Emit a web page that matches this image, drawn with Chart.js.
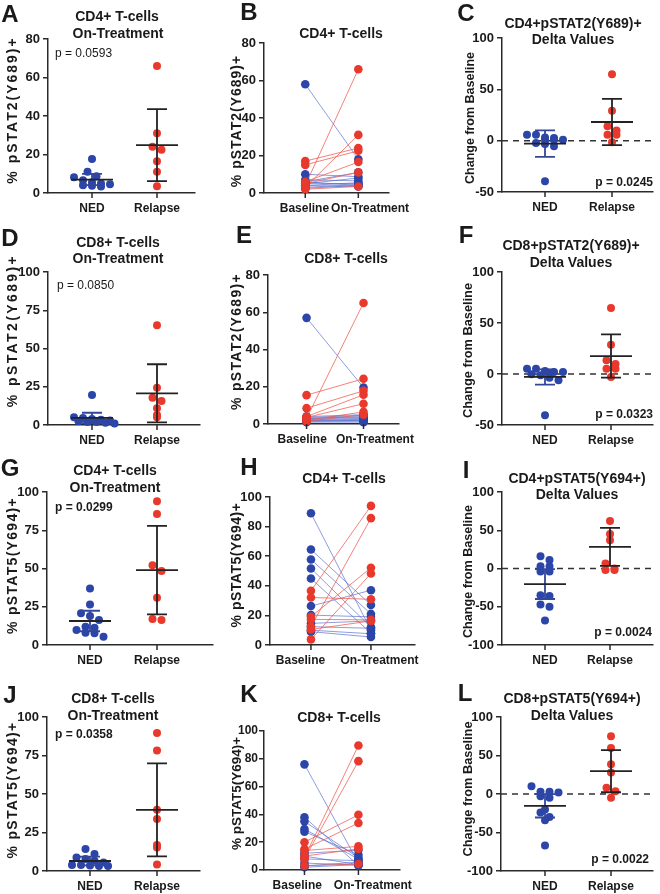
<!DOCTYPE html>
<html><head><meta charset="utf-8">
<script src="https://cdn.jsdelivr.net/npm/chart.js@4.4.1/dist/chart.umd.min.js"></script>
<style>
html,body{margin:0;padding:0;background:#fff;overflow:hidden;width:660px;height:894px;}
#wrap{position:relative;width:660px;height:894px;font-family:"Liberation Sans",Arial,Helvetica,sans-serif;color:#1a1a1a;}
canvas{position:absolute;}
.t{position:absolute;transform:translate(-50%,-50%);white-space:nowrap;font-weight:bold;font-size:14px;line-height:16px;}
.lt{position:absolute;transform:translate(-50%,-50%);font-weight:bold;font-size:24px;line-height:24px;}
.p{position:absolute;transform:translateY(-50%);white-space:nowrap;font-size:12px;line-height:14px;}
</style></head><body><div id="wrap"></div>
<script>
// ---------- tick / category labels ----------
const groupLabels = ['NED', 'Relapse'];
const timeLabels = ['Baseline', 'On-Treatment'];
const ticks80 = [0, 20, 40, 60, 80];
const ticks100by25 = [0, 25, 50, 75, 100];
const ticks100by20 = [0, 20, 40, 60, 80, 100];
const ticksDelta50 = [-50, 0, 50, 100];
const ticksDelta100 = [-100, -50, 0, 50, 100];

// ---------- A: CD4+ pSTAT2 on-treatment ----------
const A_ned = [17.6, 11.0, 8.7, 8.2, 6.6, 5.6, 5.0, 4.6, 4.0, 3.8, 3.4];
const A_rel = [66, 31, 24, 22.5, 16.5, 11, 3.5];
const A_nedStat = [7.0, 2.9];
const A_relStat = [24.9, 18.7];

// ---------- B: CD4+ pSTAT2 paired ----------
const B_nedBase = [58, 6, 10, 5, 7, 4, 5, 3, 6, 2.5, 4];
const B_nedOn   = [18, 11, 8.7, 8, 6.5, 5.5, 5, 4.5, 4, 4, 3.5];
const B_relBase = [4, 3, 17, 15, 6, 5, 2];
const B_relOn   = [66, 31, 24, 22.5, 16.5, 11, 3.5];

// ---------- C: CD4+ pSTAT2 delta ----------
const C_ned = [5.8, 5.8, 3.2, 2.6, 1, 1, 1, -2.3, -3.2, -5.5, -39.6];
const C_rel = [64.6, 29.2, 14, 10, 5.8, 5.8, -1.6];
const C_nedStat = [-2.9, 12.9];
const C_relStat = [18.2, 22.5];

// ---------- D: CD8+ pSTAT2 on-treatment ----------
const D_ned = [19.6, 5.0, 4.5, 4.0, 3.5, 3.0, 2.5, 2.0, 2.0, 1.5, 1.0];
const D_rel = [65.2, 24.3, 17.8, 15.7, 10.9, 6.5, 5.0];
const D_nedStat = [4.6, 3.4];
const D_relStat = [20.7, 19.0];

// ---------- E: CD8+ pSTAT2 paired ----------
const E_nedBase = [57, 4, 3.5, 3, 3, 2.5, 2, 2, 1.5, 1.5, 1];
const E_nedOn   = [19.6, 5, 4.5, 4, 3.5, 3, 2.5, 2, 2, 1.5, 1];
const E_relBase = [3, 15.5, 8.5, 4, 3.5, 2, 1.5];
const E_relOn   = [65, 24.3, 17.8, 15.7, 10.9, 6.5, 5];

// ---------- F: CD8+ pSTAT2 delta ----------
const F_ned = [5.2, 5.2, 2.9, 2, 2, 1.3, -0.3, -1.3, -3.6, -6.2, -40.4];
const F_rel = [64.6, 28.7, 13.4, 9.8, 5.2, 5.2, -2.9];
const F_nedStat = [-2.9, 7.5];
const F_relStat = [17.6, 21.2];

// ---------- G: CD4+ pSTAT5 on-treatment ----------
const G_ned = [37, 26.5, 20.7, 19, 16.3, 12, 11.3, 9.8, 8, 7.6, 5.4];
const G_rel = [94, 85.7, 52.2, 48.3, 30.9, 17, 16.3];
const G_nedStat = [15.7, 6.7];
const G_relStat = [48.9, 28.9];

// ---------- H: CD4+ pSTAT5 paired ----------
const H_nedBase = [89, 64.5, 57.8, 51.7, 44.9, 26.3, 20.2, 14.6, 12.4, 10, 9];
const H_nedOn   = [10, 27, 21, 12, 8, 37, 19, 16.3, 11.3, 7.6, 5.4];
const H_relBase = [36.6, 32.1, 19.1, 17.3, 12.4, 10.5, 3.8];
const H_relOn   = [94, 30.9, 52.2, 17, 85.7, 16.3, 48.3];

// ---------- I: CD4+ pSTAT5 delta ----------
const I_ned = [16, 11, 3, 3, -4, -4, -35, -36, -47, -50, -68];
const I_rel = [62, 45, 37, 6.5, 0, -2, -2];
const I_nedStat = [-20.4, 19.5];
const I_relStat = [28.3, 24.8];

// ---------- J: CD8+ pSTAT5 on-treatment ----------
const J_ned = [14.3, 11, 8.7, 7.8, 6.7, 5.6, 3.9, 3.9, 3.5, 3.3, 3.3];
const J_rel = [89.6, 78.3, 39.7, 33.8, 16.9, 15.2, 4.3];
const J_nedStat = [6.5, 2.8];
const J_relStat = [39.7, 30.2];

// ---------- K: CD8+ pSTAT5 paired ----------
const K_nedBase = [76, 38, 35, 29.5, 27.6, 12, 10, 8, 5, 3, 2];
const K_nedOn   = [5, 3.3, 8.7, 7.8, 11, 14.3, 3.9, 6.7, 3.5, 5.6, 3.9];
const K_relBase = [9, 8, 20, 15, 14, 10, 3];
const K_relOn   = [89.6, 78.3, 39.7, 33.8, 17, 15.2, 4.3];

// ---------- L: CD8+ pSTAT5 delta ----------
const L_ned = [10, 2.8, 2.8, 2, -2.8, -5, -20, -24, -30, -34, -67];
const L_rel = [75, 59.8, 38.7, 27.9, 8, 3.7, -5];
const L_nedStat = [-15.3, 15.2];
const L_relStat = [29.6, 27.3];

// ---------- styling ----------
const FONT = '"Liberation Sans", Arial, Helvetica, sans-serif';
const BLUE = '#2c45a8', RED = '#e8392c';
const BLUE_LINE = 'rgba(80,104,205,0.65)', RED_LINE = 'rgba(240,88,78,0.75)';
const AX = '#2a2a2a', TXT = '#1a1a1a';
const NED_BAR = '#33479a';

const wrap = document.getElementById('wrap');

// Prism-like row layout: values in the same band are spread side by side (max per row)
function swarm(values, center, pxX, pxY, band, gap, maxRow) {
  const bins = {};
  values.forEach((v, i) => { const b = Math.floor(v * pxY / band); (bins[b] = bins[b] || []).push(i); });
  const out = new Array(values.length);
  Object.keys(bins).forEach(b => {
    const ids = bins[b];
    for (let c = 0; c * maxRow < ids.length; c++) {
      const chunk = ids.slice(c * maxRow, (c + 1) * maxRow); const n = chunk.length;
      const shift = c % 2 ? gap / 2 : 0;
      chunk.forEach((id, k) => { out[id] = { x: center + ((k - (n - 1) / 2) * gap + shift) / pxX, y: values[id] }; });
    }
  });
  return out;
}

function errPlugin(stats) {
  return {
    id: 'eb', afterDatasetsDraw(chart) {
      const { ctx, scales: { x, y } } = chart;
      ctx.save(); ctx.lineWidth = 1.8;
      for (const s of stats) {
        const px = x.getPixelForValue(s.x), pm = y.getPixelForValue(s.m),
          pt = y.getPixelForValue(s.m + s.sd), pb = y.getPixelForValue(s.m - s.sd);
        ctx.strokeStyle = s.bar; ctx.beginPath();
        ctx.moveTo(px, pt); ctx.lineTo(px, pb);
        ctx.moveTo(px - 10, pt); ctx.lineTo(px + 10, pt);
        ctx.moveTo(px - 10, pb); ctx.lineTo(px + 10, pb); ctx.stroke();
        ctx.strokeStyle = s.mean; ctx.beginPath();
        ctx.moveTo(px - 21, pm); ctx.lineTo(px + 21, pm); ctx.stroke();
      }
      ctx.restore();
    }
  };
}
const zeroLine = {
  id: 'zl', beforeDatasetsDraw(chart) {
    const { ctx, chartArea: a, scales: { y } } = chart;
    const py = y.getPixelForValue(0);
    ctx.save(); ctx.setLineDash([6, 5]); ctx.strokeStyle = '#333'; ctx.lineWidth = 1.5;
    ctx.beginPath(); ctx.moveTo(a.left, py); ctx.lineTo(a.right, py); ctx.stroke(); ctx.restore();
  }
};
const xTickMarks = {
  id: 'xtm', afterDraw(chart) {
    const { ctx, chartArea: a, scales: { x } } = chart;
    ctx.save(); ctx.strokeStyle = AX; ctx.lineWidth = 1.5;
    [1, 2].forEach(v => { const px = x.getPixelForValue(v); ctx.beginPath(); ctx.moveTo(px, a.bottom); ctx.lineTo(px, a.bottom + 5); ctx.stroke(); });
    ctx.restore();
  }
};
// y-axis title: letter spacing and vertical shift as in the figure
function titleTweak(ls, dy) {
  return {
    id: 'tt', beforeDraw(chart) {
      const s = chart.scales.y; if (s._tt) return; s._tt = true;
      const orig = s.drawTitle;
      s.drawTitle = function () {
        const ctx = this.ctx; ctx.save();
        if ('letterSpacing' in ctx) ctx.letterSpacing = ls + 'px';
        ctx.translate(0, dy); orig.call(this); ctx.restore();
      };
    }
  };
}

function build(p) {
  const PT = 24, XH = 26, PR = 6;
  const cl = Math.round(p.tx - p.tf * 0.6);
  const W = p.L - cl;
  const ct = p.T - PT;
  const ch = (p.B - p.T) + PT + XH;
  const cw = W + (p.R - p.L) + PR;
  const cv = document.createElement('canvas');
  cv.width = cw; cv.height = ch;
  cv.style.left = cl + 'px'; cv.style.top = ct + 'px';
  cv.style.width = cw + 'px'; cv.style.height = ch + 'px';
  wrap.appendChild(cv);
  const unit = p.c2 - p.c1;
  const xmin = 1 - (p.c1 - p.L) / unit;
  const xmax = 2 + (p.R - p.c2) / unit;
  const lx = p.lx || [p.c1, p.c2];
  const labVals = lx.map(px => 1 + (px - p.c1) / unit);
  const ymin = p.yt[0], ymax = p.yt[p.yt.length - 1];
  const pxY = (p.B - p.T) / (ymax - ymin);
  const datasets = [];
  const plugins = [xTickMarks, titleTweak(p.ls || 0, p.dy || 0)];
  let xLabels;
  if (p.kind === 'pair') {
    xLabels = timeLabels;
    datasets.push({ data: p.relBase.map(v => ({ x: 1, y: v })).concat(p.relOn.map(v => ({ x: 2, y: v }))),
      showLine: false, pointRadius: 4.3, backgroundColor: RED, borderWidth: 0, clip: false });
    datasets.push({ data: p.nedBase.map(v => ({ x: 1, y: v })).concat(p.nedOn.map(v => ({ x: 2, y: v }))),
      showLine: false, pointRadius: 4.3, backgroundColor: BLUE, borderWidth: 0, clip: false });
    p.relBase.forEach((b, i) => datasets.push({ data: [{ x: 1, y: b }, { x: 2, y: p.relOn[i] }], showLine: true,
      pointRadius: 0, borderColor: RED_LINE, borderWidth: 1, clip: false }));
    p.nedBase.forEach((b, i) => datasets.push({ data: [{ x: 1, y: b }, { x: 2, y: p.nedOn[i] }], showLine: true,
      pointRadius: 0, borderColor: BLUE_LINE, borderWidth: 1, clip: false }));
  } else {
    xLabels = groupLabels;
    datasets.push({ data: swarm(p.rel, 2, unit, pxY, 8, 9, 5), pointRadius: 4, backgroundColor: RED, borderWidth: 0, clip: false });
    datasets.push({ data: swarm(p.ned, 1, unit, pxY, 8, 9, 5), pointRadius: 4, backgroundColor: BLUE, borderWidth: 0, clip: false });
    plugins.push(errPlugin([
      { x: 1, m: p.nedStat[0], sd: p.nedStat[1], bar: NED_BAR, mean: '#222' },
      { x: 2, m: p.relStat[0], sd: p.relStat[1], bar: '#222', mean: '#222' }]));
    if (p.kind === 'delta') plugins.unshift(zeroLine);
  }
  const tickFontX = { family: FONT, size: 12, weight: 'bold' };
  const tickFontY = { family: FONT, size: p.yf || 13, weight: 'bold' };
  new Chart(cv, {
    type: 'scatter',
    data: { datasets },
    plugins,
    options: {
      responsive: false, animation: false, events: [],
      layout: { padding: { top: PT, right: PR, left: 0, bottom: 0 } },
      plugins: { legend: { display: false }, tooltip: { enabled: false }, title: { display: false } },
      scales: {
        x: {
          type: 'linear', min: xmin, max: xmax,
          afterBuildTicks: s => { s.ticks = labVals.map(v => ({ value: v })); },
          ticks: { callback: (v, i) => xLabels[i], font: tickFontX, color: TXT, padding: 8, maxRotation: 0, autoSkip: false },
          grid: { drawOnChartArea: false, drawTicks: false, color: AX, lineWidth: 1.5 },
          border: { display: true, color: AX, width: 1.5 },
          afterFit: s => { s.height = XH; }
        },
        y: {
          min: ymin, max: ymax,
          afterBuildTicks: s => { s.ticks = p.yt.map(v => ({ value: v })); },
          ticks: { callback: v => String(v), font: tickFontY, color: TXT, padding: p.yp == null ? 3 : p.yp, autoSkip: false },
          grid: { drawOnChartArea: false, drawTicks: true, tickLength: 5, color: AX, lineWidth: 1.5 },
          border: { display: true, color: AX, width: 1.5 },
          title: { display: true, text: p.ytitle, font: { family: FONT, size: p.tf, weight: 'bold' }, color: TXT, padding: 0 },
          afterFit: s => { s.width = W; }
        }
      }
    }
  });
}

const Y2 = '% pSTAT2(Y689)+', Y5 = '% pSTAT5(Y694)+', YD = 'Change from Baseline';
const panels = [
  { kind: 'dot', ned: A_ned, rel: A_rel, nedStat: A_nedStat, relStat: A_relStat, ytitle: Y2, tf: 14, ls: 2.0, dy: -6, yt: ticks80, L: 48, T: 39, B: 193, R: 195, c1: 92, c2: 157, tx: 13 },
  { kind: 'pair', nedBase: B_nedBase, nedOn: B_nedOn, relBase: B_relBase, relOn: B_relOn, ytitle: Y2, tf: 14, ls: 1.0, dy: 3, yt: ticks80, L: 264, T: 43, B: 193, R: 412, c1: 313, c2: 376, lx: [312, 390], tx: 237 },
  { kind: 'delta', ned: C_ned, rel: C_rel, nedStat: C_nedStat, relStat: C_relStat, ytitle: YD, tf: 12.5, dy: 3, yt: ticksDelta50, L: 502, T: 38, B: 192, R: 653, c1: 545, c2: 612, tx: 470 },
  { kind: 'dot', ned: D_ned, rel: D_rel, nedStat: D_nedStat, relStat: D_relStat, ytitle: Y2, tf: 14, ls: 2.4, dy: -18, yt: ticks100by25, L: 48, T: 272, B: 425, R: 200, c1: 92, c2: 157, tx: 13 },
  { kind: 'pair', nedBase: E_nedBase, nedOn: E_nedOn, relBase: E_relBase, relOn: E_relOn, ytitle: Y2, tf: 14, ls: 1.3, dy: -8, yt: ticks80, L: 268, T: 275, B: 424, R: 417, c1: 312, c2: 377, lx: [307, 390], tx: 237 },
  { kind: 'delta', ned: F_ned, rel: F_rel, nedStat: F_nedStat, relStat: F_relStat, ytitle: YD, tf: 12.8, dy: 2, yt: ticksDelta50, L: 502, T: 272, B: 425, R: 653, c1: 545, c2: 611, tx: 469 },
  { kind: 'dot', ned: G_ned, rel: G_rel, nedStat: G_nedStat, relStat: G_relStat, ytitle: Y5, tf: 14, ls: 1.3, dy: -3, yt: ticks100by25, L: 47, T: 492, B: 645, R: 213, c1: 90, c2: 157, tx: 13 },
  { kind: 'pair', nedBase: H_nedBase, nedOn: H_nedOn, relBase: H_relBase, relOn: H_relOn, ytitle: Y5, tf: 14, ls: 0.5, dy: -6, yt: ticks100by20, L: 270, T: 497, B: 645, R: 422, c1: 313, c2: 376, lx: [302, 385], tx: 237 },
  { kind: 'delta', ned: I_ned, rel: I_rel, nedStat: I_nedStat, relStat: I_relStat, ytitle: YD, tf: 12.6, dy: 3, yt: ticksDelta100, L: 502, T: 492, B: 645, R: 653, c1: 545, c2: 610, tx: 469 },
  { kind: 'dot', ned: J_ned, rel: J_rel, nedStat: J_nedStat, relStat: J_relStat, ytitle: Y5, tf: 14, ls: 1.3, dy: -4, yt: ticks100by25, L: 47, T: 717, B: 871, R: 200, c1: 90, c2: 157, tx: 13 },
  { kind: 'pair', nedBase: K_nedBase, nedOn: K_nedOn, relBase: K_relBase, relOn: K_relOn, ytitle: Y5, tf: 13.5, ls: 0, dy: -7, yf: 12, yp: 1, yt: ticks100by20, L: 264, T: 731, B: 870, R: 415, c1: 309, c2: 369, lx: [301, 385], tx: 237 },
  { kind: 'delta', ned: L_ned, rel: L_rel, nedStat: L_nedStat, relStat: L_relStat, ytitle: YD, tf: 12.8, dy: -5, yt: ticksDelta100, L: 501, T: 717, B: 871, R: 653, c1: 545, c2: 611, tx: 469 }
];
panels.forEach(build);

// ---------- text overlays ----------
function addText(cls, text, x, y, extra) {
  const d = document.createElement('div'); d.className = cls; d.textContent = text;
  d.style.left = x + 'px'; d.style.top = y + 'px';
  if (extra) Object.assign(d.style, extra);
  wrap.appendChild(d);
}
const letters = [['A', 10, 14], ['B', 249, 12], ['C', 466, 13], ['D', 10, 238], ['E', 244, 235], ['F', 466, 235],
  ['G', 10, 468], ['H', 249, 467], ['I', 466, 470], ['J', 10, 695], ['K', 249, 694], ['L', 465, 693]];
letters.forEach(l => addText('lt', l[0], l[1], l[2]));
const titles = [
  ['CD4+ T-cells', 117, 16], ['On-Treatment', 118, 33],
  ['CD4+ T-cells', 341, 33],
  ['CD4+pSTAT2(Y689)+', 573, 23], ['Delta Values', 573, 39],
  ['CD8+ T-cells', 118, 242], ['On-Treatment', 118, 258],
  ['CD8+ T-cells', 346, 258],
  ['CD8+pSTAT2(Y689)+', 571, 245], ['Delta Values', 571, 262],
  ['CD4+ T-cells', 115, 470], ['On-Treatment', 115, 487],
  ['CD4+ T-cells', 344, 478],
  ['CD4+pSTAT5(Y694+)', 577, 478], ['Delta Values', 577, 494],
  ['CD8+ T-cells', 113, 698], ['On-Treatment', 113, 715],
  ['CD8+ T-cells', 339, 717],
  ['CD8+pSTAT5(Y694+)', 572, 698], ['Delta Values', 572, 715]
];
titles.forEach(t => addText('t', t[0], t[1], t[2]));
addText('p', 'p = 0.0593', 55, 53);
addText('p', 'p = 0.0850', 57, 285);
addText('p', 'p = 0.0299', 55, 507, { fontWeight: 'bold' });
addText('p', 'p = 0.0358', 55, 734, { fontWeight: 'bold' });
addText('p', 'p = 0.0245', 0, 182, { left: 'auto', right: '7px', fontWeight: 'bold' });
addText('p', 'p = 0.0323', 0, 414, { left: 'auto', right: '7px', fontWeight: 'bold' });
addText('p', 'p = 0.0024', 0, 632, { left: 'auto', right: '8px', fontWeight: 'bold' });
addText('p', 'p = 0.0022', 0, 859, { left: 'auto', right: '11px', fontWeight: 'bold' });
</script></body></html>
